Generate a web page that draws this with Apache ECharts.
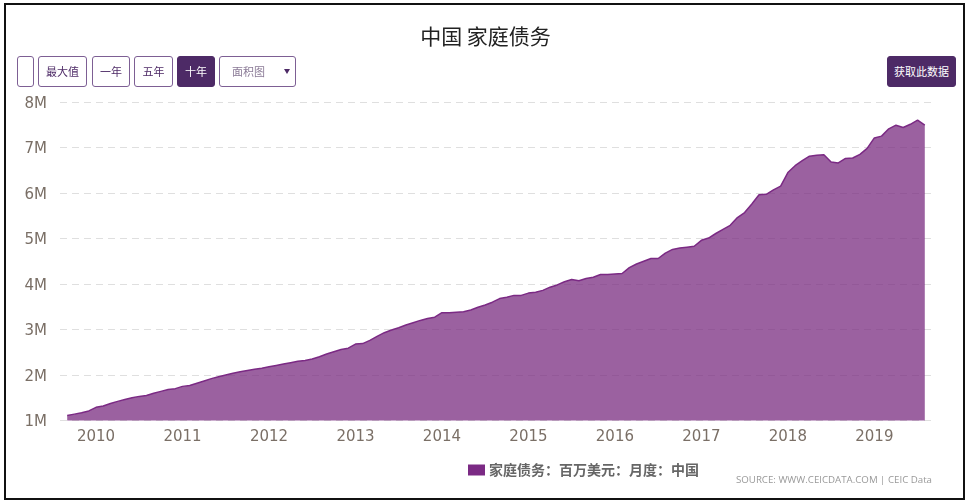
<!DOCTYPE html>
<html>

<head>
  <meta charset="utf-8">
  <title>中国 家庭债务</title>
  <script src="https://cdn.jsdelivr.net/npm/echarts@6/dist/echarts.min.js"></script>
  <style>
    html, body { margin: 0; padding: 0; background: #fff; }
    body { width: 967px; height: 503px; overflow: hidden; position: relative; font-family: "Noto Sans CJK SC", sans-serif; }
    #frame { position: absolute; left: 4px; top: 3px; width: 957px; height: 493px; border: 2px solid #111; z-index: 3; pointer-events: none; }
    #container { position: absolute; left: 0; top: 0; width: 967px; height: 503px; }
    .btn { position: absolute; top: 56px; height: 31px; box-sizing: border-box; border: 1px solid #7d5f94; border-radius: 3px; background: #fff; color: #4d2a66; font-size: 11px; line-height: 28px; text-align: center; z-index: 2; }
    .btn.on { background: #4d2a66; border-color: #4d2a66; color: #fff; }
    #chartType { position: absolute; top: 56px; left: 219px; width: 77px; height: 31px; box-sizing: border-box; border: 1px solid #7d5f94; border-radius: 3px; background: #fff; color: #8a7a96; font-size: 11px; line-height: 28px; padding-left: 12px; z-index: 2; }
    #chartType:after { content: ""; position: absolute; right: 5px; top: 12px; border-left: 3px solid transparent; border-right: 3px solid transparent; border-top: 5px solid #4d2a66; }
  </style>
</head>

<body>
  <div id="frame"></div>
  <div id="container"></div>

  <div class="btn" style="left:17px;width:17px"></div>
  <div class="btn" style="left:38px;width:49px">最大值</div>
  <div class="btn" style="left:92px;width:38px">一年</div>
  <div class="btn" style="left:134px;width:39px">五年</div>
  <div class="btn on" style="left:177px;width:38px">十年</div>
  <div id="chartType">面积图</div>
  <div class="btn on" style="left:887px;width:69px">获取此数据</div>

  <script>
    const titleText = '中国 家庭债务';
    const seriesName = '家庭债务：百万美元：月度：中国';
    const sourceText = 'SOURCE: WWW.CEICDATA.COM | CEIC Data';

    // monthly, Sep 2009 - Aug 2019, in millions of USD mn
    const debt2009 = [1.11, 1.14, 1.17, 1.21];
    const debt2010 = [1.29, 1.32, 1.375, 1.42, 1.46, 1.50, 1.53, 1.55, 1.60, 1.64, 1.68, 1.70];
    const debt2011 = [1.75, 1.77, 1.82, 1.87, 1.92, 1.96, 2.00, 2.04, 2.07, 2.10, 2.125, 2.15];
    const debt2012 = [2.18, 2.21, 2.24, 2.27, 2.30, 2.32, 2.35, 2.40, 2.46, 2.51, 2.56, 2.59];
    const debt2013 = [2.68, 2.69, 2.76, 2.85, 2.93, 2.99, 3.04, 3.10, 3.15, 3.20, 3.24, 3.27];
    const debt2014 = [3.37, 3.37, 3.38, 3.39, 3.43, 3.49, 3.54, 3.60, 3.68, 3.71, 3.75, 3.75];
    const debt2015 = [3.80, 3.82, 3.86, 3.93, 3.98, 4.05, 4.10, 4.07, 4.12, 4.15, 4.21, 4.21];
    const debt2016 = [4.22, 4.23, 4.36, 4.44, 4.50, 4.56, 4.56, 4.68, 4.76, 4.79, 4.81, 4.83];
    const debt2017 = [4.96, 5.01, 5.11, 5.20, 5.29, 5.46, 5.57, 5.76, 5.96, 5.97, 6.07, 6.15];
    const debt2018 = [6.45, 6.60, 6.71, 6.81, 6.83, 6.84, 6.68, 6.66, 6.76, 6.77, 6.85, 6.98];
    const debt2019 = [7.21, 7.25, 7.41, 7.49, 7.44, 7.51, 7.60, 7.49];

    const values = [].concat(debt2009, debt2010, debt2011, debt2012, debt2013, debt2014, debt2015, debt2016, debt2017, debt2018, debt2019);

    // one empty month on each side, the grid runs a bit past the data
    const months = [];
    for (let i = 0; i < values.length + 2; i++) {
      const m = 7 + i; // 7 = Aug 2009, counted from Jan 2009 = 0
      months.push((2009 + Math.floor(m / 12)) + '-' + String(m % 12 + 1).padStart(2, '0'));
    }
    const seriesData = [null].concat(values, [null]);

    const chart = echarts.init(document.getElementById('container'));
    chart.setOption({
      animation: false,
      title: [
        { text: titleText, left: 480.5, textAlign: 'center', top: 21, textStyle: { fontFamily: '"Noto Sans CJK SC"', fontSize: 21, fontWeight: 'normal', color: '#222' } },
        { text: sourceText, right: 30, top: 470, textStyle: { fontFamily: '"Open Sans"', fontSize: 9.7, fontWeight: 'normal', color: '#999' } }
      ],
      legend: {
        left: 463,
        top: 458,
        itemWidth: 17,
        itemHeight: 11,
        itemGap: 4,
        data: [{ name: seriesName, icon: 'rect' }],
        textStyle: { fontFamily: '"Noto Sans CJK SC"', fontSize: 14, fontWeight: 'bold', color: '#666', padding: [0, 0, 0, -1] }
      },
      grid: { left: 60, right: 35, top: 102, bottom: 82.5 },
      xAxis: {
        type: 'category',
        boundaryGap: false,
        data: months,
        axisLine: { show: false },
        axisTick: { show: false },
        axisLabel: {
          interval: function (index, value) { return value.endsWith('-01'); },
          formatter: function (value) { return value.slice(0, 4); },
          margin: 9,
          fontFamily: '"DejaVu Sans"',
          fontSize: 15,
          color: '#7a6f66'
        }
      },
      yAxis: {
        type: 'value',
        min: 1,
        max: 8,
        interval: 1,
        axisLine: { show: false },
        axisTick: { show: false },
        axisLabel: {
          formatter: function (value) { return value + 'M'; },
          margin: 13,
          verticalAlign: 'top',
          lineHeight: 4,
          fontFamily: '"DejaVu Sans"',
          fontSize: 15,
          color: '#7a6f66'
        },
        splitLine: { lineStyle: { type: [7, 5], color: '#dfdfdf', width: 1 } }
      },
      series: [{
        name: seriesName,
        type: 'line',
        data: seriesData,
        symbol: 'none',
        smooth: false,
        connectNulls: false,
        itemStyle: { color: '#7b2a84' },
        lineStyle: { color: '#7b2a84', width: 1.5 },
        areaStyle: { color: '#792c80', opacity: 0.75, origin: 'start' }
      }]
    });
  </script>
</body>

</html>
